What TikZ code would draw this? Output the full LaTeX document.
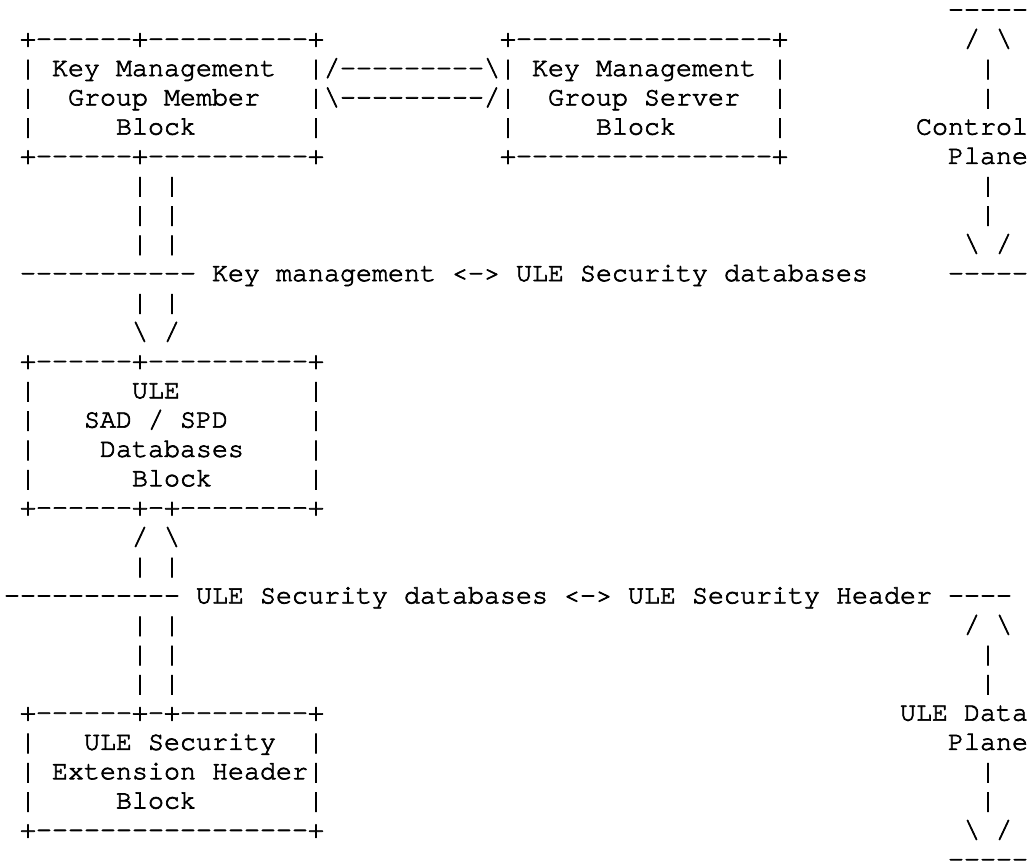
\documentclass[tikz,border=0pt]{standalone}
\usepackage{fontspec}
\setmonofont[FakeBold=2.5]{TeX Gyre Cursor}
\newcommand\bsl{\char92\relax}
\begin{document}
\begin{tikzpicture}[x=16bp,y=-29.3bp,
  txt/.style={font=\ttfamily\fontsize{26.667bp}{29.3bp}\selectfont,anchor=base west,inner sep=0pt,outer sep=0pt},
  edgebar/.style={txt,text height=10bp,text depth=-5bp}]
\fill[white] (0,0) rectangle (64.3125,29.454);
\useasboundingbox (0,0) rectangle (64.3125,29.454);
\begin{scope}[shift={(0.25,0.594)}]
% row 0
\node[edgebar] (cpTop) at (59,0) {-----};
% row 1
\node[txt] (gmTop) at (1,1) {+------+----------+};
\node[txt] (gsTop) at (31,1) {+----------------+};
\node[txt] (cpUp) at (60,1) {/ \bsl};
% row 2
\node[txt] (gmL2) at (1,2) {|};
\node[txt] (gmT1) at (3,2) {Key Management};
\node[txt] (linkA) at (19,2) {|/---------\bsl|};
\node[txt] (gsT1) at (33,2) {Key Management};
\node[txt] (gsR2) at (48,2) {|};
\node[txt] (cpV1) at (61,2) {|};
% row 3
\node[txt] (gmL3) at (1,3) {|};
\node[txt] (gmT2) at (4,3) {Group Member};
\node[txt] (linkB) at (19,3) {|\bsl---------/|};
\node[txt] (gsT2) at (34,3) {Group Server};
\node[txt] (gsR3) at (48,3) {|};
\node[txt] (cpV2) at (61,3) {|};
% row 4
\node[txt] (gmL4) at (1,4) {|};
\node[txt] (gmT3) at (7,4) {Block};
\node[txt] (gmR4) at (19,4) {|};
\node[txt] (gsL4) at (31,4) {|};
\node[txt] (gsT3) at (37,4) {Block};
\node[txt] (gsR4) at (48,4) {|};
\node[txt] (cpT1) at (57,4) {Control};
% row 5
\node[txt] (gmBot) at (1,5) {+------+----------+};
\node[txt] (gsBot) at (31,5) {+----------------+};
\node[txt] (cpT2) at (59,5) {Plane};
% rows 6-8
\node[txt] (kmA1) at (8,6) {| |};
\node[txt] (cpV3) at (61,6) {|};
\node[txt] (kmA2) at (8,7) {| |};
\node[txt] (cpV4) at (61,7) {|};
\node[txt] (kmA3) at (8,8) {| |};
\node[txt] (cpDn) at (60,8) {\bsl{} /};
% row 9
\node[txt] (kmLine) at (1,9) {----------- Key management <-> ULE Security databases};
\node[txt] (cpBot) at (59,9) {-----};
% rows 10-11
\node[txt] (kmA4) at (8,10) {| |};
\node[txt] (kmHead) at (8,11) {\bsl{} /};
% rows 12-17 database block
\node[txt] (dbTop) at (1,12) {+------+----------+};
\node[txt] (dbL13) at (1,13) {|};
\node[txt] (dbT1) at (8,13) {ULE};
\node[txt] (dbR13) at (19,13) {|};
\node[txt] (dbL14) at (1,14) {|};
\node[txt] (dbT2) at (5,14) {SAD / SPD};
\node[txt] (dbR14) at (19,14) {|};
\node[txt] (dbL15) at (1,15) {|};
\node[txt] (dbT3) at (6,15) {Databases};
\node[txt] (dbR15) at (19,15) {|};
\node[txt] (dbL16) at (1,16) {|};
\node[txt] (dbT4) at (8,16) {Block};
\node[txt] (dbR16) at (19,16) {|};
\node[txt] (dbBot) at (1,17) {+------+-+--------+};
% rows 18-19
\node[txt] (shHead) at (8,18) {/ \bsl};
\node[txt] (shA1) at (8,19) {| |};
% row 20
\node[txt] (shLine) at (0,20) {----------- ULE Security databases <-> ULE Security Header ----};
% rows 21-23
\node[txt] (shA2) at (8,21) {| |};
\node[txt] (dpUp) at (60,21) {/ \bsl};
\node[txt] (shA3) at (8,22) {| |};
\node[txt] (dpV1) at (61,22) {|};
\node[txt] (shA4) at (8,23) {| |};
\node[txt] (dpV2) at (61,23) {|};
% rows 24-28 header block
\node[txt] (ehTop) at (1,24) {+------+-+--------+};
\node[txt] (dpT1) at (56,24) {ULE Data};
\node[txt] (ehL25) at (1,25) {|};
\node[txt] (ehT1) at (5,25) {ULE Security};
\node[txt] (ehR25) at (19,25) {|};
\node[txt] (dpT2) at (59,25) {Plane};
\node[txt] (ehL26) at (1,26) {|};
\node[txt] (ehT2) at (3,26) {Extension Header|};
\node[txt] (dpV3) at (61,26) {|};
\node[txt] (ehL27) at (1,27) {|};
\node[txt] (ehT3) at (7,27) {Block};
\node[txt] (ehR27) at (19,27) {|};
\node[txt] (dpV4) at (61,27) {|};
\node[txt] (ehBot) at (1,28) {+-----------------+};
\node[txt] (dpDn) at (60,28) {\bsl{} /};
\node[edgebar] (dpBot) at (59,29) {-----};
\end{scope}
\end{tikzpicture}
\end{document}
